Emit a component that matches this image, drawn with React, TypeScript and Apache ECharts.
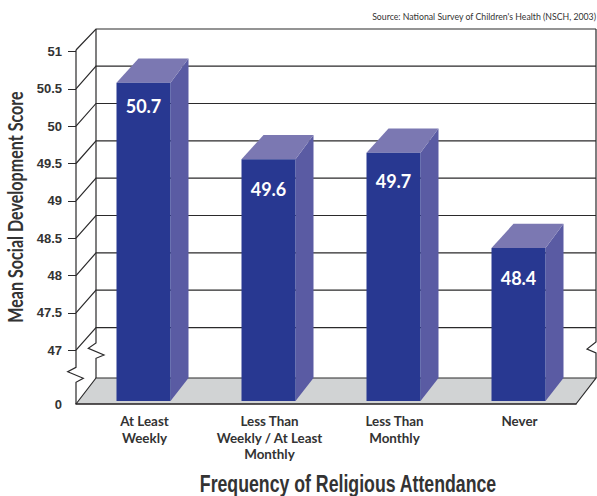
import React, { useEffect, useRef } from "react";
import * as echarts from "echarts";

const categories = ["At Least\nWeekly", "Less Than\nWeekly / At Least\nMonthly", "Less Than\nMonthly", "Never"];
// Printed scores on the bars
const scoreLabels = ["50.7", "49.6", "49.7", "48.4"];
// Height of each bar's front face read against the printed axis (the source's bars sit slightly below their labels)
const barTops = [50.582, 49.557, 49.645, 48.369];
const axisTicks = [47, 47.5, 48, 48.5, 49, 49.5, 50, 50.5, 51];
const axisBottom = 46.28;
const axisTop = 51.02;
const barFloor = 46.32;

const DEPTH_X = 20;
const DEPTH_Y = 22.7;
const BAR_W = 54;
const BAR_DX = 18;
const BAR_DY = 24.2;
const BAR_SHIFT = 5;
const LABEL_DROP = 32.5;
const ink = "#2b2a2b";

const App = () => {
  const ref = useRef<HTMLDivElement>(null);
  useEffect(() => {
    document.body.style.margin = "0";
    const chart = echarts.init(ref.current!, null, { renderer: "svg" });
    const L = 76, R = 576, T = 50, B = 404;
    const backX = L + DEPTH_X, backR = R + DEPTH_X, backFloor = 378;
    chart.setOption({
      animation: false,
      grid: { left: L, right: 597 - R, top: T, bottom: 496 - B, containLabel: false },
      xAxis: {
        type: "category",
        data: categories,
        axisLine: { lineStyle: { color: "#231f20", width: 1.5 } },
        axisTick: { show: false },
        axisLabel: {
          interval: 0,
          margin: 9,
          padding: [0, 0, 0, 12],
          color: "#333333",
          fontFamily: "Lato",
          fontWeight: "bold",
          fontSize: 13.4,
          lineHeight: 16.5,
        },
      },
      yAxis: {
        type: "value",
        min: axisBottom,
        max: axisTop,
        splitLine: { show: false },
        axisLine: { show: false },
        axisTick: { show: true, length: 8, customValues: axisTicks, lineStyle: { color: ink, width: 1 } },
        axisLabel: {
          customValues: [axisBottom, ...axisTicks],
          margin: 14,
          padding: [4, 0, 0, 0],
          color: "#333333",
          fontFamily: "Liberation Sans",
          fontWeight: "bold",
          fontSize: 13,
          formatter: (v: number) => (v === axisBottom ? "0" : String(v)),
        },
      },
      graphic: [
        { type: "polygon", z: 0, shape: { points: [[L, B], [backX, backFloor], [backR, backFloor], [R, B]] }, style: { fill: "#d1d3d4" } },
        { type: "polyline", z: 1, shape: { points: [[L, B], [backX, backFloor], [backR, backFloor], [R, B]] }, style: { stroke: ink, lineWidth: 1.2, fill: "none" } },
        { type: "polyline", z: 1, shape: { points: [[L, T], [L, 367.3], [67.7, 371.7], [83.3, 378.3], [L, 382.3], [L, B]] }, style: { stroke: ink, lineWidth: 1.2, fill: "none" } },
        { type: "polyline", z: 1, shape: { points: [[backX, 29], [backX, 343], [88.3, 348.3], [104, 355], [backX, 358.3], [backX, backFloor]] }, style: { stroke: ink, lineWidth: 1.2, fill: "none" } },
        { type: "polyline", z: 1, shape: { points: [[backR, 29], [backR, 342], [587, 349], [backR, 353], [backR, backFloor]] }, style: { stroke: ink, lineWidth: 1.2, fill: "none" } },
        { type: "polyline", z: 1, shape: { points: [[L, T], [backX, 29], [backR, 29]] }, style: { stroke: ink, lineWidth: 1.2, fill: "none" } },
        { type: "text", z: 5, x: 596, y: 16, scaleX: 0.92, style: { text: "Source: National Survey of Children's Health (NSCH, 2003)", fill: "#333333", font: "9.5px Lato", align: "right", verticalAlign: "middle" } },
        { type: "text", z: 5, x: 15, y: 207, rotation: Math.PI / 2, scaleX: 0.767, style: { text: "Mean Social Development Score", fill: "#333333", font: "bold 21px Lato", align: "center", verticalAlign: "middle" } },
        { type: "text", z: 5, x: 348, y: 484, scaleX: 0.77, style: { text: "Frequency of Religious Attendance", fill: "#333333", font: "bold 23px 'Liberation Sans'", align: "center", verticalAlign: "middle" } },
      ],
      series: [
        {
          type: "custom",
          name: "wall",
          z: 1,
          silent: true,
          data: axisTicks.slice(0, -1).map((v) => [0, v]),
          clip: false,
          renderItem: (_p: any, api: any) => {
            const y = api.coord([0, api.value(1)])[1];
            return {
              type: "group",
              children: [
                { type: "polyline", shape: { points: [[L, y], [backX, y - DEPTH_Y], [backR, y - DEPTH_Y]] }, style: { stroke: ink, lineWidth: 1.2, fill: "none" } },
              ],
            };
          },
        },
        {
          type: "custom",
          name: "Mean Social Development Score",
          z: 3,
          clip: false,
          data: barTops.map((v, i) => [i, v]),
          renderItem: (_p: any, api: any) => {
            const i = api.value(0);
            const [cx, top] = api.coord([i, api.value(1)]);
            const bottom = api.coord([i, barFloor])[1];
            const labelY = api.coord([i, Number(scoreLabels[i])])[1] + LABEL_DROP;
            const x1 = cx + BAR_SHIFT - BAR_W / 2;
            const x2 = x1 + BAR_W;
            return {
              type: "group",
              children: [
                { type: "polygon", shape: { points: [[x2, top], [x2 + BAR_DX, top - BAR_DY], [x2 + BAR_DX, bottom - 23], [x2, bottom]] }, style: { fill: "#5a5ba3" } },
                { type: "polygon", shape: { points: [[x1, top], [x1 + BAR_DX + 4, top - BAR_DY], [x2 + BAR_DX, top - BAR_DY], [x2, top]] }, style: { fill: "#7b78b2" } },
                { type: "rect", shape: { x: x1, y: top, width: BAR_W, height: bottom - top }, style: { fill: "#283891" } },
                {
                  type: "text",
                  x: cx + BAR_SHIFT,
                  y: labelY,
                  style: { text: scoreLabels[i], fill: "#ffffff", font: "bold 18px Lato", align: "center", verticalAlign: "middle" },
                },
              ],
            };
          },
        },
      ],
    });
    return () => chart.dispose();
  }, []);
  return <div ref={ref} style={{ width: 597, height: 496 }} />;
};

export default App;
